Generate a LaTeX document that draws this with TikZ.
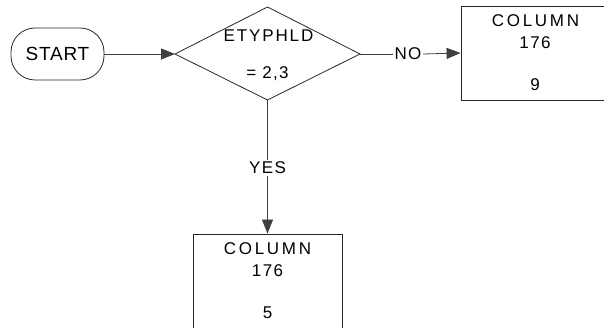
\documentclass[tikz,border=0pt]{standalone}
\usepackage{fontspec}
\setmainfont{Liberation Sans}
\newfontfamily\wideA[LetterSpace=8]{Liberation Sans}
\newfontfamily\wideD[LetterSpace=11]{Liberation Sans}
\newfontfamily\wideB[LetterSpace=16]{Liberation Sans}
\newfontfamily\wideC[LetterSpace=4]{Liberation Sans}
\usetikzlibrary{arrows.meta,shapes.geometric}
\begin{document}
\begin{tikzpicture}[x=1pt,y=-1pt,
  line/.style={draw=black!75,line width=0.8pt},
  arr/.style={line,-{Triangle[length=14pt,width=11pt]}},
  box/.style={draw=black!85,line width=0.8pt,inner sep=0pt},
  txt/.style={inner sep=0pt,font=\wideA\fontsize{17}{19}\selectfont},
  coltxt/.style={inner sep=0pt,font=\wideB\fontsize{17}{19}\selectfont},
  lbl/.style={inner sep=1.5pt,font=\wideA\fontsize{17}{19}\selectfont}]
\useasboundingbox (0,0) rectangle (604,328);
\clip (0,0) rectangle (604,328);
% start
\node[box,rounded corners=24pt,minimum width=93pt,minimum height=52pt,
  font=\wideC\fontsize{19}{21}\selectfont] (start) at (57.5,54) {START};
% decision
\draw[box] (175,54) -- (267.5,7) -- (360,54) -- (267.5,100) -- cycle;
\coordinate (dl) at (175,54);
\coordinate (dr) at (360,54);
\coordinate (db) at (267.5,100);
\node[txt,font=\wideD\fontsize{17}{19}\selectfont] (d1) at (268.5,36) {ETYPHLD};
\node[txt] (d2) at (267.5,74) {= 2,3};
% right box
\node[box,minimum width=148pt,minimum height=94pt] (rb) at (535,53) {};
\node[coltxt] (rb1) at (535.5,20.5) {COLUMN};
\node[txt] (rb2) at (535,43) {176};
\node[txt] (rb3) at (535,85) {9};
% bottom box
\node[box,minimum width=149pt,minimum height=94pt] (bb) at (267.5,281) {};
\node[coltxt] (bb1) at (267.5,249) {COLUMN};
\node[txt] (bb2) at (267.5,271) {176};
\node[txt] (bb3) at (267.5,313) {5};
% labels
\node[lbl] (no) at (408,54) {NO};
\node[lbl] (yes) at (267.5,168) {YES};
% connectors
\draw[arr] (start.east) -- (dl);
\draw[line] (dr) -- (no.west);
\draw[arr] (no.east) -- (rb.west);
\draw[line] (db) -- (yes.north);
\draw[arr] (yes.south) -- (bb.north);
\end{tikzpicture}
\end{document}
